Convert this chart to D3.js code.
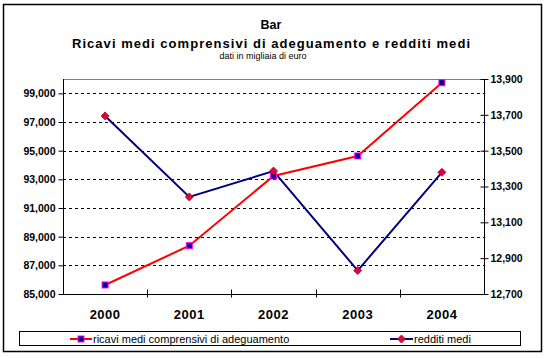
<!DOCTYPE html>
<html><head><meta charset="utf-8">
<script src="https://cdn.jsdelivr.net/npm/d3@7"></script>
<style>body{margin:0;background:#fff}svg{display:block}text{font-family:Arial,"Liberation Sans",sans-serif}</style>
</head><body><svg id="c" width="547" height="358"></svg>
<script>
const years = ["2000","2001","2002","2003","2004"];
const ricavi = [85630, 88370, 93230, 94630, 99740];
const redditi = [13694, 13242, 13386, 12831, 13379];
const leftTicks = [85000,87000,89000,91000,93000,95000,97000,99000];
const rightTicks = [12700,12900,13100,13300,13500,13700,13900];
const seriesNames = ["ricavi medi comprensivi di adeguamento","redditi medi"];

const svg = d3.select("#c");
const L=63, R=484, T=79, B=294;
svg.append("rect").attr("x",3.5).attr("y",4.5).attr("width",538).attr("height",347).attr("fill","#fff").attr("stroke","#000").attr("stroke-width",1.5);

svg.append("text").attr("x",271).attr("y",28.5).attr("text-anchor","middle").attr("font-weight","bold").attr("font-size",12.5).text("Bar");
svg.append("text").attr("x",271).attr("y",48).attr("text-anchor","middle").attr("font-weight","bold").attr("font-size",13).attr("textLength",398).attr("lengthAdjust","spacing").text("Ricavi medi comprensivi di adeguamento e redditi medi");
svg.append("text").attr("x",263).attr("y",58.5).attr("text-anchor","middle").attr("font-size",9).text("dati in migliaia di euro");

const x = d3.scaleBand().domain(years).range([L,R]);
const yL = d3.scaleLinear().domain([85000,100000]).range([B,T]);
const yR = d3.scaleLinear().domain([12700,13900]).range([B,T]);

// gridlines
svg.append("g").selectAll("line").data(leftTicks.slice(1)).join("line")
  .attr("x1",L).attr("x2",R).attr("y1",d=>Math.round(yL(d))+0.5).attr("y2",d=>Math.round(yL(d))+0.5)
  .attr("stroke","#000").attr("stroke-dasharray","3,3");
// plot top border
svg.append("line").attr("x1",L).attr("x2",R).attr("y1",T+0.5).attr("y2",T+0.5).attr("stroke","#808080");

const fmt = d3.format(",");
// left axis
const gl = svg.append("g").attr("transform",`translate(${L+0.5},0)`)
  .call(d3.axisLeft(yL).tickValues(leftTicks).tickFormat(fmt).tickSize(5).tickPadding(3));
gl.select(".domain").attr("d",`M0,${T}V${B}`);
// right axis
const gr = svg.append("g").attr("transform",`translate(${R+0.5},0)`)
  .call(d3.axisRight(yR).tickValues(rightTicks).tickFormat(fmt).tickSize(4).tickPadding(2));
gr.selectAll(".tick line").attr("x1",-4);
gr.select(".domain").attr("d",`M0,${T}V${B}`);
// bottom axis
const gb = svg.append("g").attr("transform",`translate(0,${B+0.5})`);
gb.append("line").attr("x1",L).attr("x2",R).attr("stroke","#000");
gb.selectAll("line.t").data(years.slice(1)).join("line").attr("class","t")
  .attr("x1",d=>Math.round(x(d))+0.5).attr("x2",d=>Math.round(x(d))+0.5).attr("y1",-5).attr("y2",3).attr("stroke","#000");
gb.selectAll("text").data(years).join("text").attr("x",d=>x(d)+x.bandwidth()/2).attr("y",24)
  .attr("text-anchor","middle").attr("font-weight","bold").attr("font-size",13).attr("letter-spacing",0.5).text(d=>d);

[gl,gr].forEach(g=>{g.selectAll("text").attr("font-weight","bold").attr("font-size",10.5).attr("font-family","Arial,'Liberation Sans',sans-serif");
  g.selectAll("line,path").attr("stroke","#000");});

const cx = d=>x(d)+x.bandwidth()/2;
// red series
svg.append("path").datum(ricavi).attr("fill","none").attr("stroke","#ff0000").attr("stroke-width",2)
  .attr("d",d3.line().x((d,i)=>cx(years[i])).y(d=>yL(d)));
// blue series
svg.append("path").datum(redditi).attr("fill","none").attr("stroke","#000080").attr("stroke-width",2)
  .attr("d",d3.line().x((d,i)=>cx(years[i])).y(d=>yR(d)));

function sq(g,px,py){g.append("rect").attr("x",px-3).attr("y",py-3).attr("width",6).attr("height",6).attr("fill","#000080").attr("stroke","#ff00ff").attr("stroke-width",1);}
function dm(g,px,py){g.append("path").attr("d",`M${px},${py-4}L${px+4},${py}L${px},${py+4}L${px-4},${py}Z`).attr("fill","#e0003a").attr("stroke","#a00020").attr("stroke-width",0.8);}
const mk = svg.append("g");
ricavi.forEach((v,i)=>sq(mk,cx(years[i]),yL(v)));
redditi.forEach((v,i)=>dm(mk,cx(years[i]),yR(v)));

// legend
const lg = svg.append("g");
lg.append("rect").attr("x",19.5).attr("y",331.5).attr("width",501).attr("height",14).attr("fill","#fff").attr("stroke","#000");
lg.append("line").attr("x1",70).attr("x2",92).attr("y1",339).attr("y2",339).attr("stroke","#ff0000").attr("stroke-width",2);
sq(lg,81,339);
lg.append("text").attr("x",93).attr("y",343).attr("font-size",11).text(seriesNames[0]);
lg.append("line").attr("x1",390).attr("x2",413).attr("y1",339).attr("y2",339).attr("stroke","#000080").attr("stroke-width",2);
dm(lg,401.5,339);
lg.append("text").attr("x",414).attr("y",343).attr("font-size",11).text(seriesNames[1]);
</script></body></html>
